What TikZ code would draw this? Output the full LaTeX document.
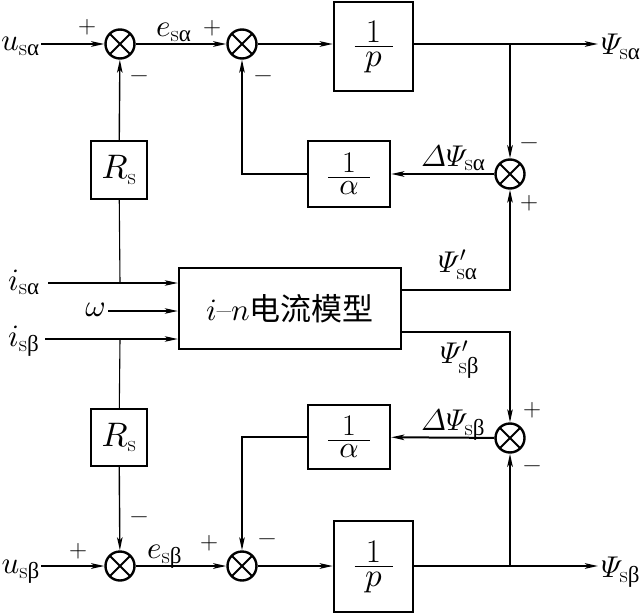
\documentclass[tikz,border=0pt]{standalone}
\usepackage{amsmath}
\usepackage{fontspec}
\DeclareFontShape{OML}{cmm}{m}{it}{<->cmmi10}{}
\DeclareFontShape{OMS}{cmsy}{m}{n}{<->cmsy10}{}
\DeclareFontShape{OT1}{cmr}{m}{n}{<->cmr10}{}
\DeclareFontShape{OMX}{cmex}{m}{n}{<->cmex10}{}
\newfontfamily\grk{Liberation Serif}
\newfontfamily\cjk{Noto Sans CJK SC}
\usetikzlibrary{arrows.meta}
\newcommand{\subf}{\fontsize{23}{23}\selectfont\upshape}
\newcommand{\ssa}{\mbox{\subf s{\grk α}}}
\newcommand{\ssb}{\mbox{\subf s{\grk β}}}
\newcommand{\fr}[2]{$\textstyle\frac{\hbox to #1{\hss 1\hss}}{\textstyle #2}$}
\tikzset{
  blk/.style={draw, line width=2.4pt, inner sep=0pt, font=\fontsize{34}{40}\selectfont},
  frp/.style={blk, font=\fontsize{33}{40}\selectfont},
  fra/.style={blk, font=\fontsize{30}{36}\selectfont},
  sumn/.style={circle, draw, line width=2.4pt, minimum size=29pt, inner sep=0pt,
    path picture={\draw[line width=2pt]
      ([shift={(45:15pt)}]path picture bounding box.center) -- ([shift={(225:15pt)}]path picture bounding box.center)
      ([shift={(135:15pt)}]path picture bounding box.center) -- ([shift={(315:15pt)}]path picture bounding box.center);}},
  arr/.style={-{Stealth[length=13pt,width=5.5pt,inset=3pt]}},
  thk/.style={line width=2pt},
  med/.style={line width=1.4pt},
  thn/.style={line width=1.1pt},
  lab/.style={inner sep=0pt, font=\fontsize{31}{36}\selectfont},
  psl/.style={inner sep=0pt, font=\fontsize{30}{36}\selectfont},
  sg/.style={inner sep=0pt, font=\fontsize{25}{25}\selectfont},
}
\begin{document}
\begin{tikzpicture}[x=1pt,y=-1pt]
\useasboundingbox (0,0) rectangle (642,615);
% summing junctions
\node[sumn] (s1) at (120,44) {};
\node[sumn] (s2) at (242,44) {};
\node[sumn] (s3) at (510,174) {};
\node[sumn] (s4) at (120,566) {};
\node[sumn] (s5) at (242,566) {};
\node[sumn] (s6) at (510,438) {};
% blocks
\node[frp, minimum width=79pt, minimum height=89pt] (p1) at (373.5,46.5) {\fr{38pt}{p}};
\node[fra, minimum width=82pt, minimum height=66pt] (a1) at (349,174) {\fr{42pt}{\alpha}};
\node[blk, minimum width=56pt, minimum height=58pt] (r1) at (119,170) {$R_{\mbox{\subf s}}$};
\node[blk, minimum width=222pt, minimum height=81pt, font=\fontsize{31}{36}\selectfont] (m) at (290,308.5) {$i$–$n${\cjk 电流模型}};
\node[blk, minimum width=56pt, minimum height=57pt] (r2) at (119,437.5) {$R_{\mbox{\subf s}}$};
\node[fra, minimum width=82pt, minimum height=64pt] (a2) at (349,437) {\fr{42pt}{\alpha}};
\node[frp, minimum width=79pt, minimum height=91pt] (p2) at (373.5,566.5) {\fr{38pt}{p}};
% coordinates
\coordinate (uain) at (41,44);
\coordinate (oa) at (598,44);
\coordinate (ba) at (510,44);
\coordinate (ia) at (48,283);
\coordinate (ja) at (120,283);
\coordinate (w) at (108,311);
\coordinate (ib) at (45,339);
\coordinate (jb) at (120,339);
\coordinate (pa) at (402,290);
\coordinate (pb) at (402,332);
\coordinate (ubin) at (41,566);
\coordinate (ob) at (598,566);
\coordinate (bb) at (510,566);
% alpha channel
\draw[thk,arr] (uain) -- (s1);
\draw[thk,arr] (s1) -- (s2);
\draw[thk,arr] (s2) -- (s2 -| p1.west);
\draw[thk,arr] (s2 -| p1.east) -- (oa);
\draw[thk,arr] (ba) -- (s3);
\draw[thk,arr] (s3) -- (a1);
\draw[med,arr] (a1.west) -| (s2);
\draw[med,arr] (r1) -- (s1);
\draw[thn] (r1) -- (ja);
% current model inputs
\draw[med,arr] (ia) -- (ia -| m.west);
\draw[med,arr] (w) -- (w -| m.west);
\draw[med,arr] (ib) -- (ib -| m.west);
\draw[thn] (jb) -- (r2);
\draw[thn,arr] (pa) -| (s3);
\draw[thn,arr] (pb) -| (s6);
% beta channel
\draw[thk,arr] (s6) -- (a2);
\draw[med,arr] (a2.west) -| (s5);
\draw[med,arr] (r2) -- (s4);
\draw[thk,arr] (ubin) -- (s4);
\draw[thk,arr] (s4) -- (s5);
\draw[thk,arr] (s5) -- (s5 -| p2.west);
\draw[thk,arr] (s5 -| p2.east) -- (ob);
\draw[thk,arr] (bb) -- (s6);
% labels
\node[lab, anchor=base east] (lua) at (40,51) {$u_{\ssa}$};
\node[lab, anchor=base west] (lea) at (156,37) {$e_{\ssa}$};
\node[psl, anchor=base west] (lpa) at (601,55) {$\varPsi_{\ssa}$};
\node[psl, anchor=base west] (lda) at (421,166) {$\varDelta\varPsi_{\ssa}$};
\node[psl, anchor=base west] (lpa2) at (438,272) {$\varPsi'_{\ssa}$};
\node[psl, anchor=base west] (lpb2) at (440,363) {$\varPsi'_{\ssb}$};
\node[lab, anchor=base west] (lia) at (8,290) {$i_{\ssa}$};
\node[lab, anchor=base east] (lw) at (106,316) {$\omega$};
\node[lab, anchor=base west] (lib) at (8,346) {$i_{\ssb}$};
\node[psl, anchor=base west] (ldb) at (421,430) {$\varDelta\varPsi_{\ssb}$};
\node[lab, anchor=base east] (lub) at (40,573) {$u_{\ssb}$};
\node[lab, anchor=base west] (leb) at (147,558) {$e_{\ssb}$};
\node[psl, anchor=base west] (lpb) at (601,577) {$\varPsi_{\ssb}$};
% signs
\node[sg] (g1) at (87,27) {+};
\node[sg] (g2) at (139,79) {−};
\node[sg] (g3) at (212,28) {+};
\node[sg] (g4) at (263,79) {−};
\node[sg] (g5) at (529,146) {−};
\node[sg] (g6) at (529,203) {+};
\node[sg] (g7) at (532,410) {+};
\node[sg] (g8) at (532,469) {−};
\node[sg] (g9) at (139,520) {−};
\node[sg] (g10) at (78,551) {+};
\node[sg] (g11) at (209,543) {+};
\node[sg] (g12) at (267,542) {−};
\end{tikzpicture}
\end{document}
